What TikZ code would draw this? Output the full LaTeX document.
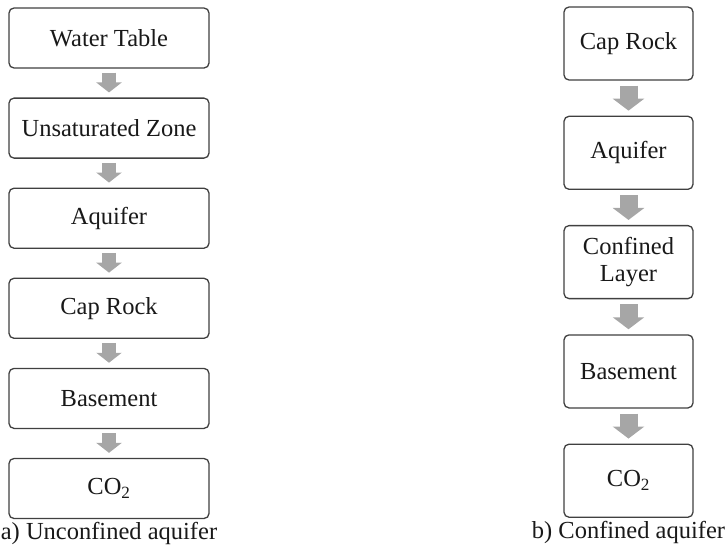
\documentclass[tikz,border=0pt]{standalone}
\usepackage{fontspec}
\setmainfont{Liberation Serif}
\usetikzlibrary{positioning, arrows.meta}

\begin{document}
\begin{tikzpicture}[
    x=1pt, y=1pt,
    font=\fontsize{24.5}{27}\selectfont,
    layer/.style={rectangle, rounded corners=5pt, draw=black!75, line width=1.3pt, fill=white, align=center, text=black!90},
    leftlayer/.style={layer, minimum width=200pt, minimum height=60pt},
    rightlayer/.style={layer, minimum width=129pt, minimum height=73pt},
    leftflow/.style={draw=black!35, line width=14pt, -{Triangle[width=25pt, length=10pt]}, shorten <=4pt, shorten >=5pt},
    rightflow/.style={draw=black!35, line width=18pt, -{Triangle[width=31pt, length=12pt]}, shorten <=5pt, shorten >=5pt},
    caption/.style={inner sep=0pt, text=black!90},
]
    \useasboundingbox (0,0) rectangle (725,-544);

    \node[leftlayer] (wtable) at (109,-38) {Water Table};
    \node[leftlayer, below=28.8pt of wtable] (unsat) {Unsaturated Zone};
    \node[leftlayer, below=28.8pt of unsat] (aquiferA) {Aquifer};
    \node[leftlayer, below=28.8pt of aquiferA] (caprockA) {Cap Rock};
    \node[leftlayer, below=28.8pt of caprockA] (basementA) {Basement};
    \node[leftlayer, below=28.8pt of basementA] (co2A) {CO\textsubscript{2}};
    \node[caption, below=3pt of co2A] (capA) {a) Unconfined aquifer};

    \node[rightlayer] (caprockB) at (628.5,-43.5) {Cap Rock};
    \node[rightlayer, below=35pt of caprockB] (aquiferB) {Aquifer};
    \node[rightlayer, below=35pt of aquiferB] (confined) {Confined\\Layer};
    \node[rightlayer, below=35pt of confined] (basementB) {Basement};
    \node[rightlayer, below=35pt of basementB] (co2B) {CO\textsubscript{2}};
    \node[caption, below=3pt of co2B] (capB) {b) Confined aquifer};

    \draw[leftflow] (wtable) -- (unsat);
    \draw[leftflow] (unsat) -- (aquiferA);
    \draw[leftflow] (aquiferA) -- (caprockA);
    \draw[leftflow] (caprockA) -- (basementA);
    \draw[leftflow] (basementA) -- (co2A);

    \draw[rightflow] (caprockB) -- (aquiferB);
    \draw[rightflow] (aquiferB) -- (confined);
    \draw[rightflow] (confined) -- (basementB);
    \draw[rightflow] (basementB) -- (co2B);
\end{tikzpicture}
\end{document}
